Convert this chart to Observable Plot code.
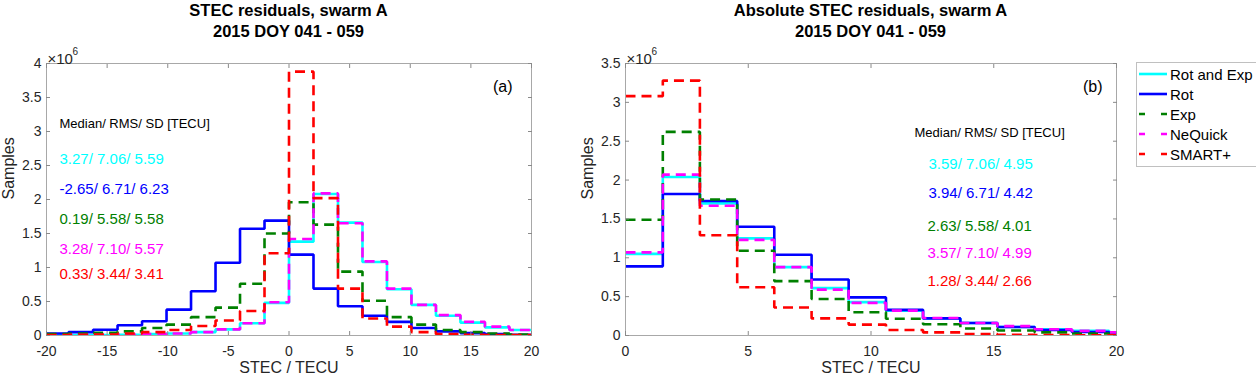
<!DOCTYPE html>
<html>
<head>
<meta charset="utf-8">
<script src="https://cdn.jsdelivr.net/npm/d3@7"></script>
<script src="https://cdn.jsdelivr.net/npm/@observablehq/plot@0.6"></script>
<style>
  html, body { margin: 0; padding: 0; background: #fff; }
  #root { position: relative; width: 1256px; height: 379px; overflow: hidden; font-family: "Liberation Sans", Arial, sans-serif; }
  .title { position: absolute; top: 0px; text-align: center; font-weight: bold; font-size: 16.5px; line-height: 21px; color: #000; }
  .panel { position: absolute; top: 40px; }
  #legend { position: absolute; left: 1136px; top: 62px; width: 140px; height: 103px; border: 1px solid #c0c0c0; background: #fff; }
  .lg { position: absolute; left: 0; height: 20px; display: flex; align-items: center; font-size: 15px; color: #000; }
  .lg svg { margin-left: 2px; margin-right: 3px; }
</style>
</head>
<body>
<div id="root">
  <div class="title" style="left:46px;width:485px;">STEC residuals, swarm A<br>2015 DOY 041 - 059</div>
  <div class="title" style="left:625px;width:491px;">Absolute STEC residuals, swarm A<br>2015 DOY 041 - 059</div>
  <div class="panel" id="left" style="left:0px;"></div>
  <div class="panel" id="right" style="left:560px;"></div>
  <div id="legend"></div>
</div>
<script>
// ---------- data (samples in units of 10^6) ----------
const seriesNames = ["Rot and Exp", "Rot", "Exp", "NeQuick", "SMART+"];
const seriesColors = ["#00ffff", "#0000ff", "#008000", "#ff00ff", "#ff0000"];
const seriesDashed = [false, false, true, true, true];

// (a) STEC residuals, bin edges in TECU
const edgesA = [-20, -18.18, -16.16, -14.14, -12.12, -10.1, -8.08, -6.06, -4.04, -2.02, 0,
                2.02, 4.04, 6.06, 8.08, 10.1, 12.12, 14.14, 16.16, 18.18, 20];
const rotExpA  = [0.003, 0.005, 0.008, 0.012, 0.02, 0.03, 0.05, 0.09, 0.18, 0.48, 1.38, 2.08, 1.66, 1.08, 0.68, 0.45, 0.29, 0.19, 0.12, 0.08];
const rotA     = [0.03, 0.05, 0.085, 0.15, 0.21, 0.38, 0.65, 1.07, 1.57, 1.69, 1.19, 0.69, 0.43, 0.29, 0.2, 0.11, 0.06, 0.035, 0.02, 0.01];
const expA     = [0.02, 0.03, 0.04, 0.06, 0.11, 0.16, 0.27, 0.41, 0.76, 1.50, 1.96, 1.63, 0.94, 0.51, 0.27, 0.16, 0.08, 0.05, 0.03, 0.015];
const nequickA = [0.003, 0.005, 0.008, 0.012, 0.02, 0.03, 0.05, 0.09, 0.18, 0.49, 1.42, 2.09, 1.65, 1.09, 0.69, 0.45, 0.30, 0.20, 0.13, 0.08];
const smartA   = [0.005, 0.01, 0.015, 0.03, 0.05, 0.08, 0.14, 0.22, 0.36, 1.21, 3.88, 2.02, 0.69, 0.25, 0.13, 0.05, 0.02, 0.01, 0.007, 0.005];
const statsA = ["3.27/ 7.06/ 5.59", "-2.65/ 6.71/ 6.23", "0.19/ 5.58/ 5.58", "3.28/ 7.10/ 5.57", "0.33/ 3.44/ 3.41"];

// (b) Absolute STEC residuals
const edgesB = [0, 1.52, 3.03, 4.55, 6.06, 7.58, 9.09, 10.61, 12.12, 13.64, 15.15, 16.67, 18.18, 19.70, 20];
const rotExpB  = [1.05, 2.04, 1.70, 1.25, 0.88, 0.61, 0.43, 0.32, 0.22, 0.16, 0.11, 0.08, 0.06, 0.04];
const rotB     = [0.89, 1.82, 1.73, 1.40, 1.04, 0.72, 0.49, 0.33, 0.22, 0.16, 0.11, 0.07, 0.045, 0.03];
const expB     = [1.49, 2.62, 1.75, 1.09, 0.70, 0.47, 0.30, 0.215, 0.145, 0.09, 0.065, 0.04, 0.025, 0.02];
const nequickB = [1.07, 2.07, 1.67, 1.23, 0.88, 0.59, 0.42, 0.32, 0.225, 0.16, 0.12, 0.08, 0.06, 0.04];
const smartB   = [3.08, 3.28, 1.29, 0.62, 0.36, 0.22, 0.14, 0.07, 0.04, 0.02, 0.01, 0.006, 0.004, 0.002];
const statsB = ["3.59/ 7.06/ 4.95", "3.94/ 6.71/ 4.42", "2.63/ 5.58/ 4.01", "3.57/ 7.10/ 4.99", "1.28/ 3.44/ 2.66"];

const xTicksA = [-20, -15, -10, -5, 0, 5, 10, 15, 20];
const yTicksA = [0, 0.5, 1, 1.5, 2, 2.5, 3, 3.5, 4];
const xTicksB = [0, 5, 10, 15, 20];
const yTicksB = [0, 0.5, 1, 1.5, 2, 2.5, 3, 3.5];
const statsHeader = "Median/ RMS/ SD [TECU]";

// ---------- drawing ----------
function stairs(edges, vals) {
  const pts = vals.map((v, i) => ({x: edges[i], y: v}));
  pts.push({x: edges[vals.length], y: vals[vals.length - 1]});
  return pts;
}

function panel(cfg) {
  const marks = [];
  cfg.series.forEach((vals, i) => {
    marks.push(Plot.line(stairs(cfg.edges, vals), {
      x: "x", y: "y", curve: "step-after", clip: true,
      stroke: seriesColors[i], strokeWidth: 2.6,
      strokeDasharray: seriesDashed[i] ? "10,6" : null,
      strokeLinecap: "butt", strokeLinejoin: "miter"
    }));
  });
  marks.push(Plot.frame({stroke: "#a8a8a8", strokeWidth: 1}));
  const fmt = d => String(d);
  marks.push(Plot.axisX({ticks: cfg.xTicks, tickSize: -4, tickPadding: 15, tickFormat: fmt, label: null, stroke: "#8a8a8a", fontSize: 14}));
  marks.push(Plot.axisX({anchor: "top", ticks: cfg.xTicks, tickSize: -4, tickFormat: () => "", label: null, stroke: "#8a8a8a"}));
  marks.push(Plot.axisY({ticks: cfg.yTicks, tickSize: -4, tickPadding: 9, tickFormat: fmt, label: null, stroke: "#8a8a8a", fontSize: 14}));
  marks.push(Plot.axisY({anchor: "right", ticks: cfg.yTicks, tickSize: -4, tickFormat: () => "", label: null, stroke: "#8a8a8a"}));
  marks.push(Plot.text(["STEC / TECU"], {frameAnchor: "bottom", dy: 37, fontSize: 16, fill: "#262626"}));
  marks.push(Plot.text(["Samples"], {frameAnchor: "left", dx: -38, rotate: -90, fontSize: 16, fill: "#262626"}));
  marks.push(Plot.text(["\u00d710"], {frameAnchor: "top-left", textAnchor: "start", dx: 1, dy: -10, fontSize: 15, fill: "#262626"}));
  marks.push(Plot.text(["6"], {frameAnchor: "top-left", textAnchor: "start", dx: 26, dy: -16, fontSize: 10, fill: "#262626"}));
  marks.push(Plot.text([cfg.tag], {frameAnchor: "top-right", dx: cfg.tagDx, dy: cfg.tagDy, fontSize: 16, fill: "#000"}));
  marks.push(Plot.text([statsHeader], {frameAnchor: "top-left", textAnchor: "start", dx: cfg.hdrDx, dy: cfg.hdrDy, fontSize: 13, fill: "#000"}));
  cfg.stats.forEach((s, i) => {
    marks.push(Plot.text([s], {frameAnchor: "top-left", textAnchor: "start", dx: cfg.valDx[i], dy: cfg.valDy[i], fontSize: 15, fill: seriesColors[i]}));
  });
  return Plot.plot({
    width: cfg.width, height: 339,
    marginTop: 23, marginBottom: 44, marginLeft: cfg.marginLeft, marginRight: cfg.marginRight,
    style: {fontFamily: "'Liberation Sans', Arial, sans-serif", fontSize: "14px", color: "#262626", background: "transparent", overflow: "visible"},
    x: {domain: cfg.xDomain},
    y: {domain: cfg.yDomain},
    marks
  });
}

document.getElementById("left").appendChild(panel({
  edges: edgesA, series: [rotExpA, rotA, expA, nequickA, smartA], stats: statsA,
  xDomain: [-20, 20], yDomain: [0, 4], xTicks: xTicksA, yTicks: yTicksA,
  width: 560, marginLeft: 46, marginRight: 29,
  tag: "(a)", tagDx: -19, tagDy: 17,
  hdrDx: 13, hdrDy: 55, valDx: [13, 13, 13, 13, 13], valDy: [90, 120, 150, 180, 205]
}));

document.getElementById("right").appendChild(panel({
  edges: edgesB, series: [rotExpB, rotB, expB, nequickB, smartB], stats: statsB,
  xDomain: [0, 20], yDomain: [0, 3.5], xTicks: xTicksB, yTicks: yTicksB,
  width: 576, marginLeft: 65, marginRight: 20,
  tag: "(b)", tagDx: -14, tagDy: 17,
  hdrDx: 289, hdrDy: 64, valDx: [303, 303, 302, 302, 302], valDy: [95, 124, 157, 184, 212]
}));

// legend
const lg = document.getElementById("legend");
seriesNames.forEach((name, i) => {
  const row = document.createElement("div");
  row.className = "lg";
  row.style.top = (1 + i * 20) + "px";
  const ns = "http://www.w3.org/2000/svg";
  const svg = document.createElementNS(ns, "svg");
  svg.setAttribute("width", 28); svg.setAttribute("height", 10);
  const ln = document.createElementNS(ns, "line");
  ln.setAttribute("x1", 0); ln.setAttribute("x2", 28); ln.setAttribute("y1", 5); ln.setAttribute("y2", 5);
  ln.setAttribute("stroke", seriesColors[i]); ln.setAttribute("stroke-width", 2.6);
  if (seriesDashed[i]) ln.setAttribute("stroke-dasharray", "6,16");
  svg.appendChild(ln);
  row.appendChild(svg);
  const t = document.createElement("span");
  t.textContent = name;
  row.appendChild(t);
  lg.appendChild(row);
});
</script>
</body>
</html>
